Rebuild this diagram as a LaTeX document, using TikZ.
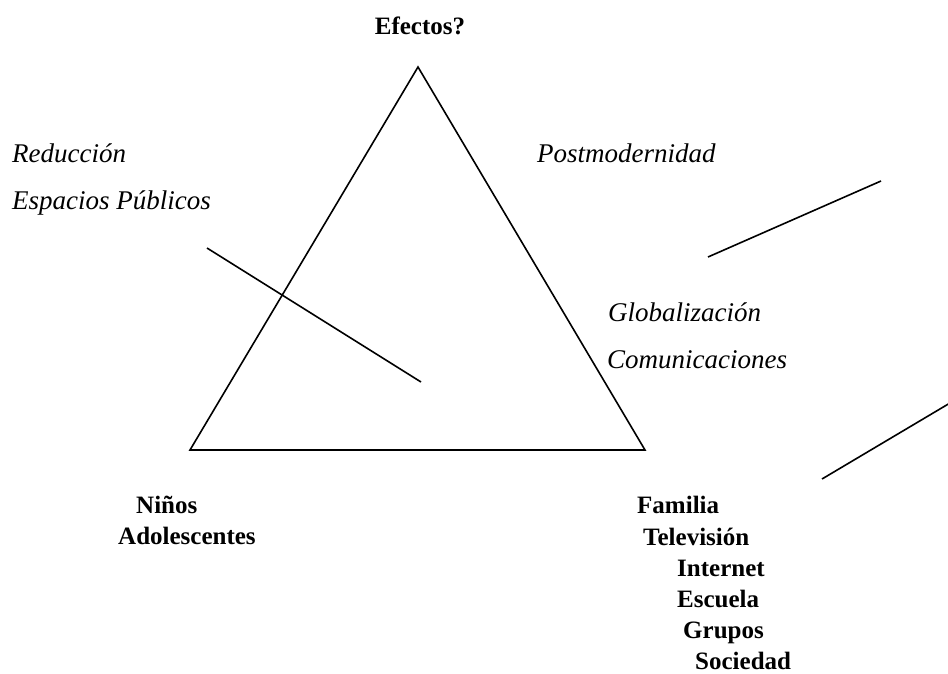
\documentclass[tikz,border=0pt]{standalone}
\usepackage{fontspec}
\setmainfont{Liberation Serif}
\begin{document}
\begin{tikzpicture}[x=1pt,y=-1pt,
  ln/.style={line width=1.6pt, line join=miter},
  bl/.style={anchor=base west, inner sep=0pt, font=\fontsize{25}{28}\selectfont\bfseries},
  it/.style={anchor=base west, inner sep=0pt, font=\fontsize{27}{30}\selectfont\itshape}]
\useasboundingbox (0,0) rectangle (948,673);
% triangle
\coordinate (apex) at (418,67);
\coordinate (tbl) at (190,450);
\coordinate (tbr) at (645,450);
\draw[ln] (apex) -- (tbl) -- (tbr) -- cycle;
% lines
\coordinate (l1a) at (207,248);
\coordinate (l1b) at (421,382);
\draw[ln] (l1a) -- (l1b);
\coordinate (l2a) at (708,257);
\coordinate (l2b) at (881,181);
\draw[ln] (l2a) -- (l2b);
\coordinate (l3a) at (822,479);
\coordinate (l3b) at (950,403);
\draw[ln] (l3a) -- (l3b);
% labels
\node[bl, anchor=base] (efe) at (420,34) {Efectos?};
\node[it] (red) at (12,162) {Reducción};
\node[it] (esp) at (12,209) {Espacios Públicos};
\node[it] (pos) at (537,162) {Postmodernidad};
\node[it] (glo) at (608,321) {Globalización};
\node[it] (com) at (607,368) {Comunicaciones};
\node[bl] (nin) at (136,513) {Niños};
\node[bl] (ado) at (118,544) {Adolescentes};
\node[bl] (fam) at (637,513) {Familia};
\node[bl] (tel) at (643,545) {Televisión};
\node[bl] (int) at (677,576) {Internet};
\node[bl] (esc) at (677,607) {Escuela};
\node[bl] (gru) at (683,638) {Grupos};
\node[bl] (soc) at (695,669) {Sociedad};
\end{tikzpicture}
\end{document}
